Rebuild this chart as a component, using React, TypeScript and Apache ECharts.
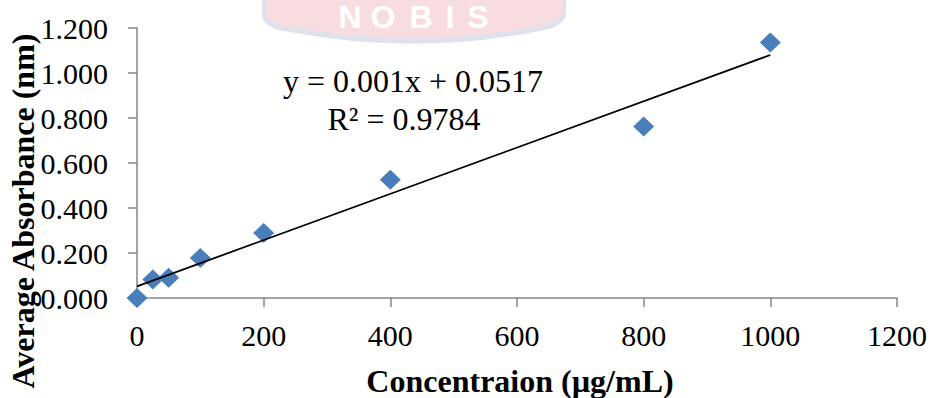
import React, { useEffect, useRef } from "react";
import * as echarts from "echarts";

const CONC = [0, 25, 50, 100, 200, 400, 800, 1000];
const ABS = [0.0, 0.082, 0.09, 0.178, 0.289, 0.526, 0.762, 1.136];
const TREND_X = [0, 1000];
const TREND_Y = [0.0517, 1.08];
const EQUATION = "y = 0.001x + 0.0517";
const R2 = "R² = 0.9784";
const X_TITLE = "Concentraion (µg/mL)";
const Y_TITLE = "Average Absorbance (nm)";
const WATERMARK = ["N", "O", "B", "I", "S"];
const WATERMARK_X = [350, 383, 421, 450, 478];

const SERIF = "'Liberation Serif', 'Times New Roman', serif";

export default function App() {
  const ref = useRef<HTMLDivElement>(null);
  useEffect(() => {
    document.body.style.margin = "0";
    if (!ref.current) return;
    echarts.graphic.registerShape(
      "wmBorder",
      echarts.graphic.extendPath(
        "M262 -2 L262 16 Q264 29 290 32 Q415 56 540 31 Q564 27 566 14 L566 -2 Z",
        {}
      )
    );
    echarts.graphic.registerShape(
      "wmBody",
      echarts.graphic.extendPath(
        "M265 -2 L265 13 Q267 24 292 27 Q415 50 538 26 Q561 22 563 11 L563 -2 Z",
        {}
      )
    );
    const chart = echarts.init(ref.current, null, { renderer: "svg" });
    const axisLine = { show: true, lineStyle: { color: "#868686", width: 1.5 } };
    chart.setOption({
      animation: false,
      backgroundColor: "#ffffff",
      grid: { left: 137, right: 36, top: 28, bottom: 100, containLabel: false },
      xAxis: {
        type: "value",
        min: 0,
        max: 1200,
        interval: 200,
        axisLine,
        axisTick: { show: true, length: 9, lineStyle: { color: "#868686", width: 1.5 } },
        splitLine: { show: false },
        axisLabel: {
          color: "#000",
          fontFamily: SERIF,
          fontSize: 30,
          margin: 22,
          formatter: (v: number) => String(v),
        },
      },
      yAxis: {
        type: "value",
        min: 0,
        max: 1.2,
        interval: 0.2,
        axisLine,
        axisTick: { show: true, length: 9, lineStyle: { color: "#868686", width: 1.5 } },
        splitLine: { show: false },
        axisLabel: {
          color: "#000",
          fontFamily: SERIF,
          fontSize: 30,
          margin: 29,
          formatter: (v: number) => v.toFixed(3),
        },
      },
      series: [
        {
          type: "scatter",
          data: CONC.map((x, i) => [x, ABS[i]]),
          symbol: "diamond",
          symbolSize: [21, 20],
          itemStyle: { color: "#4a7ebb", opacity: 1 },
          z: 2,
        },
        {
          type: "line",
          data: TREND_X.map((x, i) => [x, TREND_Y[i]]),
          showSymbol: false,
          symbol: "none",
          lineStyle: { color: "#000", width: 1.8 },
          z: 3,
        },
      ],
      graphic: [
        { type: "wmBorder", style: { fill: "#dfe2ed" }, z: 0 },
        { type: "wmBody", style: { fill: "#f8dde0" }, z: 1 },
        ...WATERMARK.map((ch, i) => ({
          type: "text",
          x: WATERMARK_X[i],
          y: 1,
          z: 2,
          style: {
            text: ch,
            fill: "#ffffff",
            font: "bold 32px 'Liberation Sans', Arial, sans-serif",
            textAlign: "center",
            textVerticalAlign: "top",
          },
        })),
        {
          type: "text",
          x: 413,
          y: 81,
          style: {
            text: EQUATION,
            fill: "#000",
            font: `32px ${SERIF}`,
            textAlign: "center",
            textVerticalAlign: "middle",
          },
        },
        {
          type: "text",
          x: 404,
          y: 119,
          style: {
            text: R2,
            fill: "#000",
            font: `32px ${SERIF}`,
            textAlign: "center",
            textVerticalAlign: "middle",
          },
        },
        {
          type: "text",
          x: 520,
          y: 381,
          style: {
            text: X_TITLE,
            fill: "#000",
            font: `bold 32px ${SERIF}`,
            textAlign: "center",
            textVerticalAlign: "middle",
          },
        },
        {
          type: "text",
          x: 23,
          y: 211,
          rotation: Math.PI / 2,
          style: {
            text: Y_TITLE,
            fill: "#000",
            font: `bold 32px ${SERIF}`,
            textAlign: "center",
            textVerticalAlign: "middle",
          },
        },
      ],
    });
    return () => chart.dispose();
  }, []);
  return <div ref={ref} style={{ width: 933, height: 398 }} />;
}
